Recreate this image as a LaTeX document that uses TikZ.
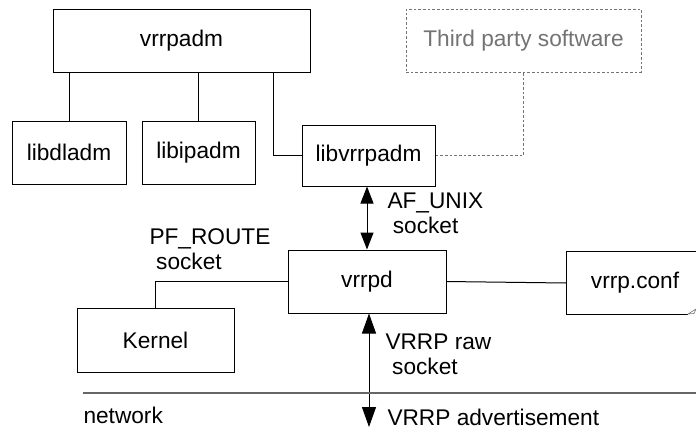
\documentclass[tikz,border=0pt]{standalone}
\usepackage{fontspec}
\setmainfont{Liberation Sans}
\usetikzlibrary{arrows.meta}
\usetikzlibrary{positioning}

\begin{document}
\begin{tikzpicture}[x=0.75pt, y=-0.75pt, line width=0.75pt,
		box/.style={draw, inner sep=0pt, minimum height=47.25pt},
		lbl/.style={align=left, anchor=west, inner sep=0pt},
		link/.style={-},
		twoway/.style={{Triangle[length=12.75pt, width=9.75pt]}-{Triangle[length=12.75pt, width=9.75pt]}},
		rawway/.style={{Triangle[length=15pt, width=10.5pt]}-{Triangle[length=15pt, width=10.5pt]}},
		font=\fontsize{17}{18.5}\selectfont]
		 
		 \useasboundingbox (0,0) rectangle (696,437);
		 
		 % top row
		 \node [box, minimum width=192.75pt] (adm) at (181.5,40.5) {vrrpadm};
		 \node [box, draw=black!55, dash pattern=on 2pt off 1.5pt, text=black!55, minimum width=176.25pt] (third) at (523.5,40.5) {Third party software};
		 
		 % libraries
		 \node [box, minimum width=85.5pt] (dl) at (69,152.5) {libdladm};
		 \node [box, minimum width=84.75pt] (ip) at (198.5,152.5) {libipadm};
		 \node [box, minimum width=99.75pt, minimum height=45.75pt] (lib) at (368.5,155.5) {libvrrpadm};
		 
		 % daemon and friends
		 \node [box, minimum width=118.5pt] (vrrpd) at (367,281.5) {vrrpd};
		 \node [box, minimum width=117.75pt, minimum height=48pt] (kernel) at (155.5,340) {Kernel};
		 \node [inner sep=0pt, minimum width=102pt, minimum height=46.5pt] (conf) at (635,283) {vrrp.conf};
		 \draw (conf.south west -| 688,0) -- (conf.south west) -- (conf.north west) -- (conf.north east);
		 \draw [black!50, line width=0.5pt] (688,314) -- (696,309) -- (694,313.5) -- cycle;
		 
		 \coordinate (a3) at (273,72);
		 \coordinate (net) at (369,427);
		 \coordinate (nw) at (83,393);
		 \coordinate (ne) at (700,393);
		 
		 % connectors
		 \draw [link] (dl.north) -- (dl.north |- adm.south);
		 \draw [link] (ip.north) -- (ip.north |- adm.south);
		 \draw [link] (a3) |- (lib.west);
		 \draw [black!55, dash pattern=on 2pt off 1.5pt] (lib.east) -| (third.south);
		 \draw [twoway] (vrrpd.north) -- (vrrpd.north |- lib.south);
		 \draw [link] (kernel.north) |- (vrrpd.west);
		 \draw [link] (vrrpd.east) -- (conf.west);
		 \draw [rawway] (net |- vrrpd.south) -- (net);
		 \draw [black!60, line width=1.1pt] (nw) -- (ne);
		 
		 % labels
		 \node [lbl] (afl) at (387,213) {AF\_UNIX\\\hspace*{4pt}socket};
		 \node [lbl] (pfl) at (149,249) {PF\_ROUTE\\\hspace*{5pt}socket};
		 \node [lbl] (rawl) at (385,354) {VRRP raw\\\hspace*{5pt}socket};
		 \node [lbl] (advl) at (387,417) {VRRP advertisement};
		 \node [lbl] (netl) at (83,415) {network};
		 
\end{tikzpicture}
\end{document}
